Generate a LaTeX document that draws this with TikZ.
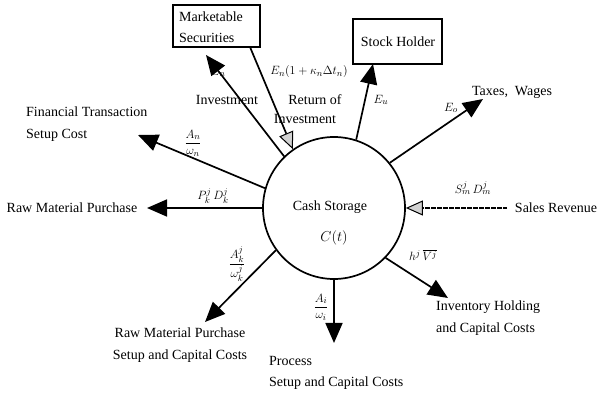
\documentclass[tikz,border=0pt]{standalone}
\usepackage{amsmath}
\usepackage{fontspec}
\setmainfont{Liberation Serif}
\usetikzlibrary{arrows.meta}
\begin{document}
\begin{tikzpicture}[x=1pt,y=-1pt,
  txt/.style={inner sep=0pt,font=\fontsize{14}{21.5}\selectfont},
  lbl/.style={inner sep=0pt,font=\fontsize{13}{15}\selectfont},
  boxnode/.style={draw,line width=1.7pt,inner sep=0pt},
  outflow/.style={line width=1.7pt,-{Triangle[length=20pt,width=17pt]}},
  inflow/.style={line width=1.7pt,-{Triangle[length=17pt,width=15pt,fill=gray!35,line width=1pt]}}
]
\useasboundingbox (0,0) rectangle (598,395);
% central circle
\node[circle,draw,line width=1.7pt,minimum size=142pt,inner sep=0pt] (cs) at (334,208) {};
\node[txt] (cstxt) at (330,207) {Cash Storage};
\node[txt] (ct) at (334,238) {$C(t)$};
% boxes
\node[boxnode,minimum width=87pt,minimum height=42pt] (ms) at (216.5,26) {};
\node[txt,anchor=west,align=left] (mstxt) at (179,27) {Marketable\\Securities};
\node[boxnode,minimum width=89pt,minimum height=45pt] (sh) at (397.5,41.5) {};
\node[txt] (shtxt) at (398,42) {Stock Holder};
% coordinates for arrow ends
\coordinate (tipinv) at (206,55);
\coordinate (msout) at (250,47);
\coordinate (tipsh) at (373,64);
\coordinate (tiptax) at (483,99);
\coordinate (salesstart) at (507,208);
\coordinate (tipinvh) at (448,298);
\coordinate (tipproc) at (334,343);
\coordinate (tiprms) at (205,322);
\coordinate (tiprm) at (147,208);
\coordinate (tipfin) at (138,135);
% connectors
\draw[outflow] (cs.134) -- (tipinv);
\draw[inflow] (msout) -- (cs.125);
\draw[outflow] (cs.72) -- (tipsh);
\draw[outflow] (cs.39) -- (tiptax);
\draw[inflow,dash pattern=on 0.9pt off 0.3pt,line width=2.4pt] (salesstart) -- (cs.0);
\draw[outflow] (cs.-44) -- (tipinvh);
\draw[outflow] (cs.-90) -- (tipproc);
\draw[outflow] (cs.-144) -- (tiprms);
\draw[outflow] (cs.180) -- (tiprm);
\draw[outflow] (cs.164) -- (tipfin);
% labels
\node[lbl] (l1) at (218,72) {$E_n$};
\node[txt] (t1) at (227,100) {Investment};
\node[lbl] (l2) at (309,72) {$E_n(1+\kappa_n\Delta t_n)$};
\node[txt] (t2) at (315,100) {Return of};
\node[txt] (t2b) at (305,119) {Investment};
\node[lbl] (l3) at (381,100) {$E_u$};
\node[lbl] (l4) at (451,108) {$E_o$};
\node[txt] (t4) at (512,92) {Taxes,\ \ Wages};
\node[lbl] (l5) at (473,188) {$S_m^j\,D_m^j$};
\node[txt] (t5) at (556,208) {Sales Revenue};
\node[lbl] (l6) at (423,255) {$h^j\,\overline{V^j}$};
\node[txt,anchor=west,align=left] (t6) at (436,318) {Inventory Holding\\and Capital Costs};
\node[lbl] (l7) at (321,307) {$\dfrac{A_i}{\omega_i}$};
\node[txt,anchor=west,align=left] (t7) at (269,373) {Process\\Setup and Capital Costs};
\node[lbl] (l8) at (237,264) {$\dfrac{A_k^j}{\omega_k^j}$};
\node[txt,align=center] (t8) at (180,345) {Raw Material Purchase\\Setup and Capital Costs};
\node[lbl] (l9) at (213,196) {$P_k^j\,D_k^j$};
\node[txt] (t9) at (72,208) {Raw Material Purchase};
\node[lbl] (l10) at (193,143) {$\dfrac{A_n}{\omega_n}$};
\node[txt,anchor=west,align=left] (t10) at (26,124) {Financial Transaction\\Setup Cost};
\end{tikzpicture}
\end{document}
